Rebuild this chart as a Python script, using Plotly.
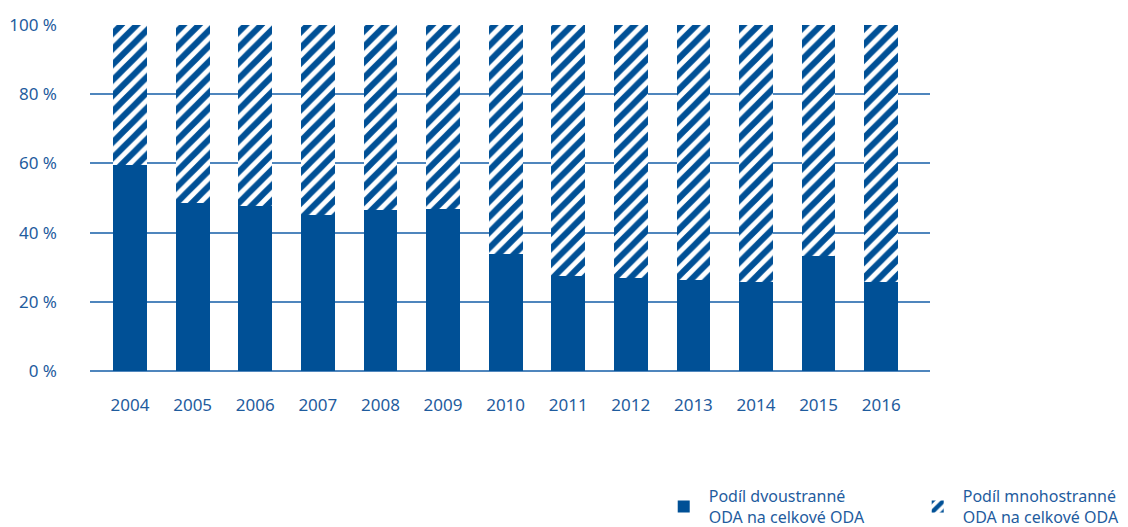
import plotly.graph_objects as go

years = ["2004", "2005", "2006", "2007", "2008", "2009", "2010", "2011", "2012", "2013", "2014", "2015", "2016"]
bilateral = [59.5, 48.6, 47.8, 45.2, 46.6, 46.8, 33.8, 27.5, 27.0, 26.4, 25.8, 33.3, 25.8]
multilateral = [round(100 - v, 1) for v in bilateral]
y_ticks = [0, 20, 40, 60, 80, 100]
y_labels = ["0 %", "20 %", "40 %", "60 %", "80 %", "100 %"]
name_bi = "Podíl dvoustranné<br>ODA na celkové ODA"
name_multi = "Podíl mnohostranné<br>ODA na celkové ODA"

BLUE = "#005096"
TEXT = "#1f5c9e"
GRID = "#4f86bd"

fig = go.Figure()
fig.add_trace(go.Bar(
    x=years, y=bilateral, name=name_bi,
    marker=dict(color=BLUE, line=dict(width=0)),
    width=0.54,
))
fig.add_trace(go.Bar(
    x=years, y=multilateral, name=name_multi,
    marker=dict(color="white", line=dict(width=0),
                pattern=dict(shape="/", fgcolor=BLUE, bgcolor="white", size=11, solidity=0.55, fillmode="replace")),
    width=0.54,
))

fig.update_layout(
    barmode="stack",
    width=1120, height=519,
    margin=dict(l=82, r=198, t=17, b=156, autoexpand=False),
    paper_bgcolor="white", plot_bgcolor="white",
    font=dict(family="Noto Sans", size=17, color=TEXT),
    showlegend=True,
    legend=dict(orientation="h", xref="container", yref="container",
                x=0.581, xanchor="left", y=0.092, yanchor="top",
                font=dict(size=16, color=TEXT), traceorder="normal",
                itemwidth=40, entrywidth=199, entrywidthmode="pixels", bgcolor="rgba(0,0,0,0)"),
    xaxis=dict(type="category", range=[-0.64, 12.78], showgrid=False, showline=False,
               ticks="", tickfont=dict(size=17, color=TEXT), ticklabelstandoff=22),
    yaxis=dict(range=[0, 100], tickvals=y_ticks, ticktext=y_labels, showgrid=True,
               gridcolor=GRID, gridwidth=1.5, zeroline=True, zerolinecolor=GRID, zerolinewidth=1.5,
               showline=False, ticks="", tickfont=dict(size=17, color=TEXT), ticklabelstandoff=32),
)

fig.write_html("out.html")
